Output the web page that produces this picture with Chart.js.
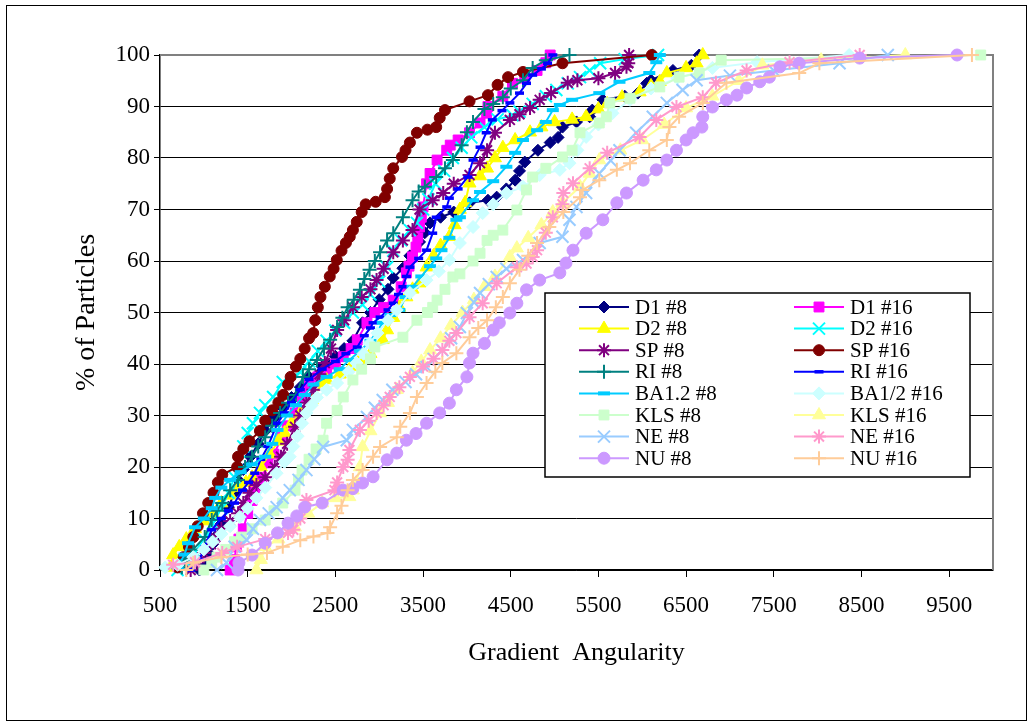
<!DOCTYPE html>
<html>
<head>
<meta charset="utf-8">
<script src="https://cdn.jsdelivr.net/npm/chart.js@4.4.1/dist/chart.umd.min.js"></script>
<style>
  html, body { margin: 0; padding: 0; background: #fff; }
  #wrap { width: 1033px; height: 727px; }
</style>
</head>
<body>
<div id="wrap"><canvas id="myChart" width="1033" height="727"></canvas></div>
<script>
// cumulative curves: [gradient angularity, % of particles]
const D1_8 = [[950,0],[1010,1.6],[1050,3.3],[1100,5],[1130,6.4],[1200,9],[1280,12.2],[1350,15],[1390,17.5],[1450,19.5],[1530,22],[1620,24.5],[1700,27],[1800,29.5],[1900,31.5],[2000,33.5],[2100,35.5],[2200,37.5],[2350,39.5],[2500,41.5],[2600,43],[2700,44.5],[2810,48],[2900,50],[3000,52.5],[3100,54.5],[3160,56.7],[3270,58.6],[3350,61],[3460,63.7],[3520,65.5],[3580,67.4],[3700,68.5],[3850,69.5],[4030,71.3],[4240,71.8],[4340,72.4],[4450,74],[4550,75.7],[4600,77.5],[4660,79.2],[4810,81.5],[4950,83],[5040,84],[5090,86],[5250,87],[5400,88],[5430,89.3],[5550,91.3],[5800,92],[5950,92.6],[6050,94.5],[6100,95.1],[6350,97],[6560,98],[6650,100]];
const D1_16 = [[1300,0],[1350,2],[1370,4.5],[1400,6],[1450,8],[1500,11],[1550,13.5],[1580,15.5],[1620,17],[1660,18],[1730,20.8],[1800,22.5],[1890,25.8],[1950,28],[2040,30.5],[2120,33.6],[2200,36],[2300,37.5],[2400,38.5],[2500,40],[2590,41.4],[2680,43],[2750,44.7],[2860,48],[2950,50],[3050,51],[3160,52.4],[3250,55],[3310,57.7],[3340,59],[3380,60.8],[3420,62.7],[3440,64.5],[3460,66.6],[3480,68.5],[3500,70.5],[3540,75],[3580,77],[3660,79.6],[3770,81.5],[3810,82.5],[3900,83.5],[4030,84.9],[4150,86.8],[4225,88.7],[4240,90],[4410,92],[4520,94.5],[4660,95.5],[4800,97],[4900,98.5],[4950,100]];
const D2_8 = [[620,0.5],[650,2.9],[720,4.5],[800,6],[900,8],[1000,9.5],[1100,11],[1200,13],[1300,14.5],[1400,16],[1480,17],[1550,18],[1650,20],[1750,22.5],[1850,25],[1920,26.6],[2000,28.5],[2100,30.5],[2230,33],[2350,36.3],[2400,36.9],[2550,38],[2680,39.5],[2780,40.8],[2900,42],[3040,44.7],[3090,46.6],[3160,49],[3230,51],[3310,53],[3380,54.5],[3460,55.7],[3540,58.8],[3620,61],[3700,63],[3800,64.7],[3860,67],[3920,70],[3980,71.3],[4030,75.1],[4150,76.5],[4230,78],[4320,80],[4410,82],[4550,83.5],[4720,85],[4850,86],[5000,87],[5200,87.5],[5360,88],[5500,89.5],[5600,90.5],[5770,91.8],[5970,92.8],[6100,94],[6200,94.8],[6280,96.5],[6500,97.5],[6620,98.4],[6690,100]];
const D2_16 = [[700,0],[800,1.5],[900,3.5],[1000,6],[1100,9],[1200,12],[1280,15],[1350,18],[1400,21],[1450,24],[1500,26.6],[1560,28.5],[1640,30.5],[1700,32],[1790,33.6],[1900,36.5],[2100,38.4],[2200,40.5],[2300,42.5],[2400,44.5],[2500,46.5],[2600,48],[2700,50],[2810,51.5],[2900,53.5],[3000,56],[3090,58.8],[3160,62],[3250,64],[3350,66],[3430,67.4],[3500,70],[3560,72],[3640,75],[3740,77.5],[3840,80],[3940,82],[4050,84],[4200,86],[4350,87.5],[4520,88.3],[4600,89],[4750,90.5],[4900,92],[5020,93.2],[5150,94.5],[5290,95.7],[5400,97],[5520,98.4],[5800,99.2],[6180,100]];
const SP_8 = [[850,0],[930,1.5],[1000,3.3],[1080,5],[1130,6.4],[1200,8],[1300,9.5],[1390,11],[1450,13],[1520,15],[1600,16.5],[1700,18],[1810,20],[1880,22],[1950,24.5],[2040,27.8],[2100,30],[2170,32.5],[2250,35],[2320,38],[2380,40.2],[2450,43],[2520,46.6],[2600,48.5],[2700,51],[2800,53],[2900,54.5],[2970,56.3],[3050,58.5],[3160,61.7],[3270,64],[3380,66],[3460,70],[3610,71.8],[3730,73.2],[3850,75],[4030,76.7],[4150,79],[4230,81.5],[4320,84.9],[4490,87.4],[4600,88.5],[4720,89.7],[4830,91.3],[4960,92.6],[5150,94.6],[5260,95.1],[5500,95.5],[5690,96.5],[5820,97.7],[5840,98.4],[5850,100]];
const SP_16 = [[700,0.5],[770,2.5],[830,4.5],[880,6.4],[930,8.5],[990,11],[1050,13],[1110,15],[1160,17],[1210,18.5],[1380,20],[1390,22],[1450,23.5],[1520,25],[1640,27],[1700,29],[1780,31],[1850,32.5],[1905,34],[1960,36],[1990,37.5],[2050,39.5],[2100,41],[2150,43],[2200,45],[2247,46],[2270,48.5],[2300,51],[2330,53],[2380,55],[2436,57],[2480,58.5],[2516,60.2],[2570,62],[2620,63.5],[2664,64.7],[2700,66],[2744,67.6],[2800,69.5],[2846,71],[2960,71.5],[3065,72.4],[3090,74],[3120,76],[3160,78],[3260,80.2],[3300,81.5],[3350,83],[3430,84.9],[3550,85.5],[3650,86],[3690,87.8],[3750,89.3],[4030,91],[4240,92.2],[4350,94.2],[4470,95.7],[4640,96.7],[5090,98.4],[6110,100]];
const RI_8 = [[750,0.5],[785,2],[880,4],[1010,6.4],[1090,9.7],[1150,11.5],[1210,13],[1300,15.5],[1390,17.5],[1470,20],[1550,22],[1620,24],[1700,25.8],[1780,28],[1870,30.5],[1960,32.5],[2050,34],[2130,37.5],[2200,39],[2290,40.8],[2370,43],[2440,44.7],[2520,47.2],[2580,49],[2640,51],[2710,52.5],[2780,54.4],[2830,56.5],[2890,58.3],[2950,60],[3010,61.7],[3090,64],[3160,65.4],[3270,68.5],[3380,71.8],[3450,73.5],[3520,74.4],[3650,76.3],[3750,78],[3840,79.6],[3940,82.5],[4000,85],[4070,87],[4200,89.5],[4300,90.5],[4410,91.8],[4500,93.5],[4640,95.1],[4750,97.5],[4900,99],[5170,100]];
const RI_16 = [[850,0],[950,2],[1010,4.5],[1090,7.8],[1200,10],[1280,11.5],[1350,13],[1440,15.5],[1510,17],[1580,18.8],[1650,21.5],[1730,24],[1840,28.5],[1920,30.5],[2000,32.5],[2100,35],[2200,37],[2350,39],[2500,40.5],[2620,42],[2750,43.3],[2830,45.5],[2900,47],[2930,48],[3010,49.1],[3100,50.5],[3160,51.8],[3220,53.5],[3270,55],[3310,57],[3350,58.8],[3450,60.5],[3540,62.1],[3610,65.4],[3650,68.5],[3770,70.5],[3800,72.2],[3900,74],[4010,76.3],[4070,79.6],[4150,82.1],[4220,84.9],[4290,87.4],[4400,89.2],[4490,90.7],[4600,92.6],[4680,94.5],[4750,96.1],[4850,97.3],[4920,98.4],[4980,100]];
const BA12_8 = [[700,0.5],[780,3],[820,5.2],[900,8.3],[1000,10],[1090,12],[1130,14],[1200,16],[1300,17.5],[1420,19],[1550,20.5],[1700,22],[1780,24.5],[1840,27.2],[1950,30],[2050,32],[2150,34],[2250,36],[2400,37.5],[2550,39],[2660,40.8],[2780,42.5],[2900,44.5],[3040,48],[3130,49.5],[3230,50.5],[3300,53],[3380,55],[3480,57],[3580,59],[3650,60.5],[3710,62.1],[3800,64.5],[3880,68],[3920,68.5],[4070,71.8],[4150,73.4],[4300,75.5],[4450,78.3],[4550,81],[4640,83.5],[4800,85.4],[4900,87],[4980,89.3],[5060,90.3],[5200,91.3],[5510,92.6],[5740,94.8],[6080,96.5],[6160,98.6],[6200,100]];
const BA12_16 = [[560,0.5],[700,1],[880,2.5],[1000,4],[1100,5.5],[1200,7],[1300,8.5],[1410,10.3],[1500,12],[1600,14],[1700,16],[1830,18.8],[1920,21],[1980,22],[2020,24],[2070,26],[2120,28.5],[2170,30.5],[2230,32],[2290,33.5],[2400,35],[2520,36.3],[2650,38.5],[2740,40.2],[2820,42],[2890,44],[2980,46],[3100,48.5],[3200,50.5],[3350,53.8],[3540,56.3],[3680,58],[3800,60.2],[3920,63.5],[4070,66.6],[4180,69.3],[4300,71],[4450,73.2],[4640,74.4],[4830,76.7],[5060,77.7],[5170,79],[5260,81.5],[5360,84.1],[5500,86.5],[5660,88.7],[5860,91.3],[6100,93.5],[6400,95.5],[6800,97.5],[7310,98.6],[8360,100]];
const KLS_8 = [[1000,0],[1090,1.4],[1150,2.5],[1250,4],[1350,5.5],[1430,6.4],[1550,8],[1700,9.7],[1800,11.5],[1900,13],[2040,15.5],[2080,17.5],[2120,19.4],[2200,21.5],[2280,23.5],[2360,25.2],[2400,28.5],[2520,31],[2590,33.6],[2700,36.9],[2800,39],[2900,41],[2950,43.3],[3270,45.2],[3430,48.5],[3550,50],[3610,51],[3660,52.4],[3750,54.5],[3840,56.9],[3920,57.5],[4070,60],[4150,61.5],[4230,64],[4300,65],[4410,66],[4570,69.9],[4680,73.8],[4750,76.3],[4900,78],[5090,80.2],[5200,81.5],[5290,84.9],[5510,86.8],[5590,88],[5630,90.7],[5860,91.6],[6200,93.8],[6420,95.7],[6650,96.5],[6900,99],[9860,100]];
const KLS_16 = [[1600,0],[1650,2],[1700,4.5],[1850,6],[2040,8.3],[2190,11],[2350,13],[2500,14],[2660,14.2],[2700,15.5],[2740,16.9],[2780,20],[2810,23.9],[2900,27],[3010,30.5],[3100,32.5],[3200,35],[3380,38.3],[3480,40.5],[3580,42.7],[3700,45],[3820,47.5],[3950,50],[4080,52.5],[4200,55],[4320,57],[4490,60.8],[4570,62.5],[4700,64.5],[4850,67],[4980,69.5],[5090,71.3],[5290,74.4],[5400,77],[5510,79.6],[5750,81.5],[6000,83.5],[6250,86.5],[6500,89.7],[6800,92],[7100,95],[7370,98],[8040,99],[9000,100]];
const NE_8 = [[1150,0],[1260,1.4],[1350,4.5],[1490,5.8],[1560,8],[1640,9.7],[1740,11],[1830,12.2],[1900,14],[1980,15.5],[2080,17.5],[2170,19.4],[2260,21.5],[2360,23.9],[2630,25.2],[2700,27.2],[2860,29.7],[2950,31.5],[3040,33],[3150,35],[3300,36.5],[3420,38],[3540,39.4],[3620,41],[3720,42.7],[3820,45],[3920,47.2],[4000,49.9],[4080,52],[4150,53.8],[4250,55.5],[4340,56.9],[4450,58.5],[4640,60.2],[4830,63.5],[5090,64.7],[5170,68],[5250,70.5],[5360,73.2],[5510,77],[5640,79.5],[5740,81.5],[5930,84.9],[6120,88],[6280,90.7],[6460,93.2],[6620,95.1],[7000,96],[7500,97],[8250,98.4],[8800,100]];
const NE_16 = [[650,1],[900,1.5],[1210,3.3],[1380,4.5],[1700,6],[1960,7.2],[2020,7.8],[2100,10],[2170,13.6],[2490,15.5],[2520,17],[2590,20],[2640,21.4],[2660,23.3],[2780,27.2],[2880,29],[2970,30.5],[3050,32],[3120,33.6],[3230,35.5],[3350,37.5],[3500,39.5],[3620,41],[3720,42.7],[3800,44.5],[3880,46],[4030,49.1],[4180,51.8],[4340,55.7],[4570,58.8],[4680,59.5],[4750,60.8],[4800,62.1],[4900,65.5],[4980,68.5],[5090,71],[5100,73.2],[5210,75.1],[5400,78],[5600,81],[5970,84.1],[6160,87.4],[6390,89.9],[6690,91.8],[6840,94.6],[7190,97],[7680,98.6],[8480,100]];
const NU_8 = [[1390,0],[1400,1.4],[1550,2.9],[1700,5.2],[1840,7.2],[1960,9.1],[2060,10.5],[2150,12.2],[2350,13],[2590,15.5],[2700,15.8],[2810,16.9],[2930,18.1],[3090,21.4],[3200,22.7],[3310,25.2],[3420,26.5],[3540,28.5],[3690,30.5],[3800,32.4],[3880,35],[4000,37.5],[4030,40.2],[4070,42.1],[4200,44],[4300,46.6],[4370,48],[4490,49.9],[4570,51.8],[4680,54.4],[4830,56.3],[5060,57.7],[5130,59.6],[5210,62.1],[5360,65.4],[5550,68],[5710,71.3],[5820,73.2],[6010,75.7],[6160,77.7],[6280,79.6],[6390,81.5],[6500,83.5],[6580,84.9],[6680,86],[6690,88],[6800,89.9],[6960,91.3],[7080,92.2],[7190,93.6],[7340,94.8],[7450,95.7],[7570,97.7],[7790,98.4],[8480,99.4],[9590,100]];
const NU_16 = [[800,0],[880,1.4],[1200,2.5],[1500,3],[1720,3.3],[1900,4.5],[2100,5.8],[2250,6.5],[2410,7.2],[2440,8.3],[2520,11],[2570,12.5],[2640,15.5],[2700,17.5],[2810,19.4],[2930,22],[3010,23.9],[3200,25.8],[3240,27.8],[3350,30.5],[3430,33.6],[3540,36.3],[3640,38.5],[3720,40.2],[3880,42.1],[4030,45.2],[4130,47],[4230,48.5],[4330,51],[4410,53],[4490,55.7],[4600,58.3],[4700,61],[4800,63.5],[4940,66.6],[5100,69.5],[5290,72.4],[5320,73.8],[5510,75.7],[5710,77.7],[5860,79],[6080,81.5],[6280,83.5],[6310,86],[6420,88],[6690,90.7],[6960,94.6],[7790,96.5],[8020,98.4],[9760,100]];

const seriesNames = ['D1 #8', 'D1 #16', 'D2 #8', 'D2 #16', 'SP #8', 'SP #16', 'RI #8', 'RI #16',
                     'BA1.2 #8', 'BA1/2 #16', 'KLS #8', 'KLS #16', 'NE #8', 'NE #16', 'NU #8', 'NU #16'];
const seriesData = [D1_8, D1_16, D2_8, D2_16, SP_8, SP_16, RI_8, RI_16,
                    BA12_8, BA12_16, KLS_8, KLS_16, NE_8, NE_16, NU_8, NU_16];
const xTicks = [500, 1500, 2500, 3500, 4500, 5500, 6500, 7500, 8500, 9500];

const seriesColors = ['#000080', '#FF00FF', '#FFFF00', '#00FFFF', '#800080', '#800000', '#008080', '#0000FF',
                      '#00CCFF', '#CCFFFF', '#CCFFCC', '#FFFF99', '#99CCFF', '#FF99CC', '#CC99FF', '#FFCC99'];
const markerStyles = ['rectRot', 'rect', 'triangle', 'crossRot', 'star', 'circle', 'cross', 'line',
                      'line', 'rectRot', 'rect', 'triangle', 'crossRot', 'star', 'circle', 'cross'];
const markerSizes = [6, 7, 7.5, 8.5, 7, 5.5, 7, 4.5, 6, 6.5, 7, 7.5, 8.5, 7, 6, 7];
const markerWidths = [1, 1, 1, 2, 2, 1, 2, 3.5, 4, 1, 1, 1, 2, 2, 1, 2];

const serif = "'Liberation Serif', 'Times New Roman', serif";
Chart.defaults.color = '#000';
Chart.defaults.font.family = serif;

// white page with a thin frame round the whole figure
const pageFrame = {
    id: 'pageFrame',
    beforeDraw(chart) {
        const c = chart.ctx;
        c.save();
        c.fillStyle = '#fff';
        c.fillRect(0, 0, chart.width, chart.height);
        c.strokeStyle = '#000';
        c.lineWidth = 1;
        c.strokeRect(6.5, 5.5, 1020, 715);
        c.restore();
    },
    beforeDatasetsDraw(chart) {
        // grey plot-area edge on top and right
        const {left, top, right, bottom} = chart.chartArea;
        const c = chart.ctx;
        c.save();
        c.strokeStyle = '#808080';
        c.lineWidth = 2;
        c.beginPath();
        c.moveTo(left, top);
        c.lineTo(right, top);
        c.lineTo(right, bottom);
        c.stroke();
        c.restore();
    }
};

// boxed two-column legend inside the plot
const legendBox = {
    id: 'legendBox',
    afterDatasetsDraw(chart) {
        const c = chart.ctx;
        const bx = 545, by = 293, bw = 425, bh = 184;
        c.save();
        c.fillStyle = '#fff';
        c.fillRect(bx, by, bw, bh);
        c.strokeStyle = '#000';
        c.lineWidth = 1.5;
        c.strokeRect(bx, by, bw, bh);
        c.font = '21px ' + serif;
        c.textBaseline = 'middle';
        c.textAlign = 'left';
        chart.data.datasets.forEach((ds, i) => {
            const lx = (i % 2) ? 794 : 579;
            const cy = 307 + Math.floor(i / 2) * 21.6;
            c.strokeStyle = ds.borderColor;
            c.lineWidth = 2;
            c.beginPath();
            c.moveTo(lx, cy);
            c.lineTo(lx + 50, cy);
            c.stroke();
            c.fillStyle = ds.pointBackgroundColor;
            c.strokeStyle = ds.pointBorderColor;
            c.lineWidth = ds.pointBorderWidth;
            Chart.helpers.drawPoint(c, {
                pointStyle: ds.pointStyle,
                radius: ds.pointRadius,
                borderWidth: ds.pointBorderWidth,
                rotation: 0
            }, lx + 25, cy);
            c.fillStyle = '#000';
            c.fillText(ds.label, lx + 56, cy + 1);
        });
        c.restore();
    }
};

const datasets = seriesNames.map((name, i) => ({
    label: name,
    data: seriesData[i],
    borderColor: seriesColors[i],
    backgroundColor: seriesColors[i],
    borderWidth: 2,
    pointStyle: markerStyles[i],
    pointRadius: markerSizes[i],
    pointBorderWidth: markerWidths[i],
    pointBackgroundColor: seriesColors[i],
    pointBorderColor: seriesColors[i],
    tension: 0,
    clip: false,
    order: seriesNames.length - i
}));

const ctx = document.getElementById('myChart').getContext('2d');

const myChart = new Chart(ctx, {
    type: 'line',
    data: { datasets: datasets },
    options: {
        responsive: false,
        animation: false,
        events: [],
        layout: { padding: { left: 0, top: 55, right: 40, bottom: 0 } },
        plugins: {
            legend: { display: false },
            tooltip: { enabled: false }
        },
        scales: {
            x: {
                type: 'linear',
                min: 500,
                max: 10000,
                afterBuildTicks: (scale) => {
                    scale.ticks = xTicks.map(v => ({ value: v }));
                },
                afterFit: (scale) => { scale.height = 157; },
                ticks: {
                    autoSkip: false,
                    maxRotation: 0,
                    padding: 15,
                    font: { size: 23 },
                    callback: (v) => String(v)
                },
                grid: {
                    drawOnChartArea: false,
                    color: '#000',
                    tickLength: 7
                },
                border: { color: '#000', width: 1.5 },
                title: {
                    display: true,
                    text: 'Gradient  Angularity',
                    font: { size: 26 },
                    padding: { bottom: 58 }
                }
            },
            y: {
                min: 0,
                max: 100,
                afterFit: (scale) => { scale.width = 160; },
                ticks: {
                    stepSize: 10,
                    padding: 4,
                    font: { size: 23 },
                    callback: (v) => String(v)
                },
                grid: {
                    color: (c) => (c.tick && c.tick.value === 100) ? '#808080' : '#000',
                    tickColor: '#000',
                    tickLength: 6,
                    lineWidth: 1
                },
                border: { color: '#000', width: 1.5 },
                title: {
                    display: true,
                    text: '% of Particles',
                    font: { size: 28 },
                    padding: { top: 70 }
                }
            }
        }
    },
    plugins: [pageFrame, legendBox]
});
</script>
</body>
</html>
